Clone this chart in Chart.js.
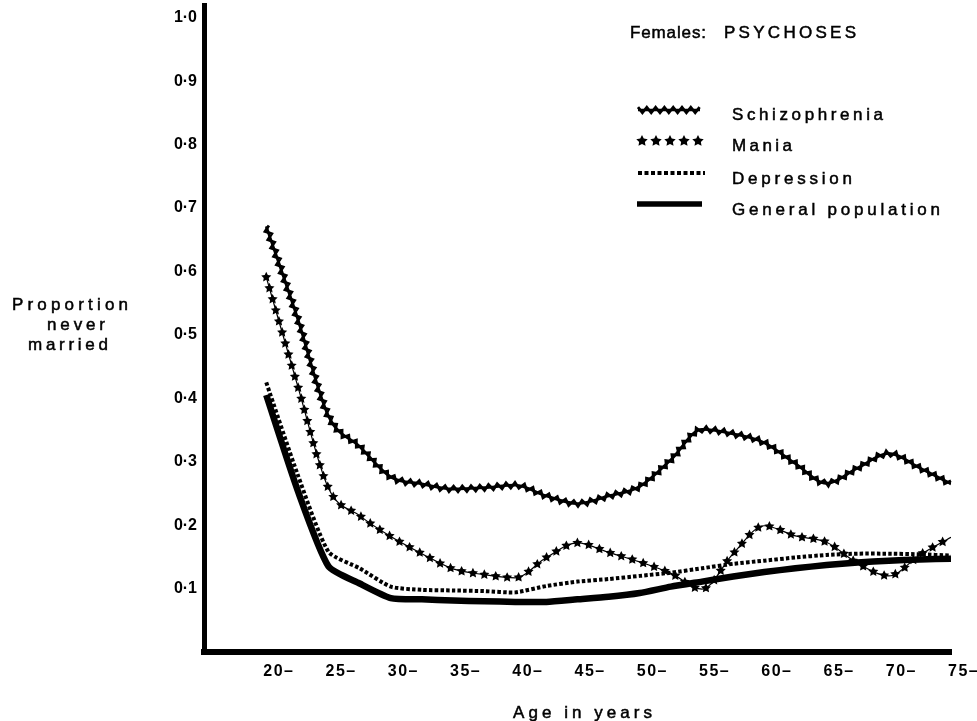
<!DOCTYPE html>
<html>
<head>
<meta charset="utf-8">
<script src="https://cdn.jsdelivr.net/npm/chart.js@4.4.1/dist/chart.umd.min.js"></script>
<style>
  html, body { margin: 0; padding: 0; background: #fff; }
  canvas { display: block; }
</style>
</head>
<body>
<canvas id="myChart" width="977" height="721"></canvas>

<script>
    // Age groups (years) and proportion never married for each group
    var ages = [20, 22.5, 25, 27.5, 30, 32.5, 35, 37.5, 40, 42.5, 45, 47.5, 50,
                52.5, 55, 57.5, 60, 62.5, 65, 67.5, 70, 72.5, 75];
    var schizophrenia = [0.671, 0.527, 0.372, 0.324, 0.276, 0.265, 0.257, 0.259, 0.263, 0.246, 0.234, 0.246, 0.261,
                         0.303, 0.351, 0.344, 0.330, 0.297, 0.266, 0.290, 0.313, 0.290, 0.265];
    var mania = [0.591, 0.421, 0.258, 0.215, 0.182, 0.155, 0.131, 0.122, 0.117, 0.149, 0.172, 0.157, 0.142,
                 0.124, 0.099, 0.155, 0.199, 0.183, 0.173, 0.140, 0.120, 0.153, 0.181];
    var depression = [0.425, 0.281, 0.158, 0.132, 0.103, 0.098, 0.097, 0.096, 0.094, 0.104, 0.111, 0.115, 0.120,
                      0.125, 0.132, 0.139, 0.144, 0.149, 0.153, 0.155, 0.155, 0.154, 0.152];
    var generalPopulation = [0.405, 0.256, 0.135, 0.108, 0.085, 0.083, 0.081, 0.080, 0.079, 0.079, 0.083, 0.087, 0.093,
                             0.103, 0.111, 0.119, 0.126, 0.132, 0.137, 0.141, 0.144, 0.146, 0.147];

    // Axis ticks
    var yTicks = [0.1, 0.2, 0.3, 0.4, 0.5, 0.6, 0.7, 0.8, 0.9, 1.0];
    var xTickAges = [20, 25, 30, 35, 40, 45, 50, 55, 60, 65, 70, 75];
    var xTickLabels = ['20–', '25–', '30–', '35–', '40–', '45–', '50–', '55–', '60–', '65–', '70–', '75–'];

    var seriesNames = ['Schizophrenia', 'Mania', 'Depression', 'General population'];

    var FONT = '"Liberation Sans", Arial, sans-serif';

    // text stretched with letter spacing to a given width
    function spacedText(ctx, text, x, y, width, font) {
        ctx.save();
        ctx.font = font;
        ctx.fillStyle = '#000';
        ctx.strokeStyle = '#000';
        ctx.lineWidth = 0.5;
        ctx.textBaseline = 'alphabetic';
        ctx.textAlign = 'left';
        ctx.letterSpacing = '0px';
        var natural = ctx.measureText(text).width;
        var gap = text.length > 1 ? (width - natural) / (text.length - 1) : 0;
        ctx.letterSpacing = gap + 'px';
        ctx.fillText(text, x, y);
        ctx.strokeText(text, x, y);
        ctx.restore();
    }

    // turn the line's bezier segments into a dense polyline
    function bezierPolyline(points) {
        var out = [];
        for (var i = 0; i < points.length - 1; i++) {
            var a = points[i], b = points[i + 1];
            var c1x = a.cp2x !== undefined ? a.cp2x : a.x, c1y = a.cp2y !== undefined ? a.cp2y : a.y;
            var c2x = b.cp1x !== undefined ? b.cp1x : b.x, c2y = b.cp1y !== undefined ? b.cp1y : b.y;
            for (var s = 0; s < 30; s++) {
                var t = s / 30, u = 1 - t;
                out.push({
                    x: u * u * u * a.x + 3 * u * u * t * c1x + 3 * u * t * t * c2x + t * t * t * b.x,
                    y: u * u * u * a.y + 3 * u * u * t * c1y + 3 * u * t * t * c2y + t * t * t * b.y
                });
            }
        }
        var last = points[points.length - 1];
        out.push({ x: last.x, y: last.y });
        return out;
    }

    // call fn every `step` px along a polyline
    function walk(poly, step, start, fn) {
        var acc = 0, next = start;
        for (var i = 1; i < poly.length; i++) {
            var a = poly[i - 1], b = poly[i];
            var dx = b.x - a.x, dy = b.y - a.y, len = Math.hypot(dx, dy);
            if (!len) continue;
            while (next <= acc + len) {
                var t = (next - acc) / len;
                fn(a.x + dx * t, a.y + dy * t, dx / len, dy / len);
                next += step;
            }
            acc += len;
        }
    }

    function drawZigzag(ctx, poly, amp, step, width) {
        var pts = [], k = 0;
        walk(poly, step, 0, function(x, y, tx, ty) {
            var s = (k++ % 2 ? 1 : -1) * amp;
            pts.push([x - ty * s, y + tx * s]);
        });
        ctx.beginPath();
        pts.forEach(function(p, i) { i ? ctx.lineTo(p[0], p[1]) : ctx.moveTo(p[0], p[1]); });
        ctx.lineWidth = width;
        ctx.lineJoin = 'miter';
        ctx.strokeStyle = '#000';
        ctx.stroke();
    }

    function drawStar(ctx, x, y, r) {
        ctx.beginPath();
        for (var j = 0; j < 10; j++) {
            var rad = j % 2 ? r * 0.5 : r;
            var ang = -Math.PI / 2 + j * Math.PI / 5;
            var px = x + Math.cos(ang) * rad, py = y + Math.sin(ang) * rad;
            j ? ctx.lineTo(px, py) : ctx.moveTo(px, py);
        }
        ctx.closePath();
        ctx.fillStyle = '#000';
        ctx.fill();
    }

    // zigzag and star decorations along the plotted lines
    var decorPlugin = {
        id: 'lineDecor',
        afterDatasetsDraw: function(chart) {
            var ctx = chart.ctx;
            chart.data.datasets.forEach(function(ds, i) {
                if (!ds.decor) return;
                var poly = bezierPolyline(chart.getDatasetMeta(i).data);
                ctx.save();
                if (ds.decor === 'zigzag') drawZigzag(ctx, poly, 2.8, 4.4, 2.8);
                if (ds.decor === 'stars') walk(poly, 11.5, 0, function(x, y) { drawStar(ctx, x, y, 5.3); });
                ctx.restore();
            });
        }
    };

    // titles, x tick labels and the legend key
    var textPlugin = {
        id: 'chartText',
        afterDraw: function(chart) {
            var ctx = chart.ctx;
            var xs = chart.scales.x;

            ctx.save();
            ctx.font = 'bold 16px ' + FONT;
            ctx.letterSpacing = '1.5px';
            ctx.fillStyle = '#000';
            ctx.textBaseline = 'alphabetic';
            xTickAges.forEach(function(a, i) {
                ctx.fillText(xTickLabels[i], xs.getPixelForValue(a) - 3, 676);
            });
            ctx.restore();

            var f = '17px ' + FONT;
            spacedText(ctx, 'Age in years', 513, 718, 139, f);
            spacedText(ctx, 'Proportion', 12, 310, 116, f);
            spacedText(ctx, 'never', 47, 330, 58, f);
            spacedText(ctx, 'married', 28, 350, 80, f);
            spacedText(ctx, 'Females:', 630, 38, 76, f);
            spacedText(ctx, 'PSYCHOSES', 724, 38, 132, f);

            // legend key
            ctx.save();
            drawZigzag(ctx, [{ x: 638, y: 110 }, { x: 700, y: 110 }], 2.8, 4.4, 2.8);
            ctx.lineWidth = 2.5;
            ctx.beginPath(); ctx.moveTo(638, 110); ctx.lineTo(700, 110); ctx.stroke();
            [642, 656, 670, 684, 698].forEach(function(x) { drawStar(ctx, x, 141, 6); });
            ctx.setLineDash([4, 2.5]);
            ctx.lineWidth = 4;
            ctx.beginPath(); ctx.moveTo(638, 173); ctx.lineTo(705, 173); ctx.stroke();
            ctx.setLineDash([]);
            ctx.lineWidth = 5.5;
            ctx.beginPath(); ctx.moveTo(637, 204); ctx.lineTo(702, 204); ctx.stroke();
            ctx.restore();

            spacedText(ctx, seriesNames[0], 732, 120, 151, f);
            spacedText(ctx, seriesNames[1], 732, 151, 60, f);
            spacedText(ctx, seriesNames[2], 732, 184, 120, f);
            spacedText(ctx, seriesNames[3], 732, 215, 208, f);
        }
    };

    function pointsOf(values) {
        return ages.map(function(a, i) { return { x: a, y: values[i] }; });
    }

    var data = {
        datasets: [{
            label: seriesNames[0],
            data: pointsOf(schizophrenia),
            borderColor: '#000',
            borderWidth: 2.8,
            cubicInterpolationMode: 'monotone',
            decor: 'zigzag'
        }, {
            label: seriesNames[1],
            data: pointsOf(mania),
            borderColor: '#000',
            borderWidth: 1.2,
            cubicInterpolationMode: 'monotone',
            decor: 'stars'
        }, {
            label: seriesNames[2],
            data: pointsOf(depression),
            borderColor: '#000',
            borderWidth: 4,
            borderDash: [3.5, 2.2],
            tension: 0.2
        }, {
            label: seriesNames[3],
            data: pointsOf(generalPopulation),
            borderColor: '#000',
            borderWidth: 6.5,
            tension: 0.2
        }]
    };

    var options = {
        responsive: false,
        animation: false,
        layout: { padding: { left: 0, right: 26, top: 5, bottom: 69 } },
        elements: {
            point: { radius: 0 },
            line: { fill: false }
        },
        plugins: {
            legend: { display: false },
            tooltip: { enabled: false }
        },
        scales: {
            x: {
                type: 'linear',
                min: 15,
                max: 75,
                grid: { display: false, drawTicks: false },
                border: { display: true, color: '#000', width: 6 },
                ticks: { display: false }
            },
            y: {
                min: 0,
                max: 1.02,
                afterFit: function(scale) {
                    scale.width = 204;
                    scale.paddingTop = 0;
                    scale.paddingBottom = 0;
                },
                afterBuildTicks: function(scale) {
                    scale.ticks = yTicks.map(function(v) { return { value: v }; });
                },
                grid: { display: false, drawTicks: false },
                border: { display: true, color: '#000', width: 5 },
                ticks: {
                    padding: 7,
                    color: '#000',
                    font: { family: FONT, size: 16, weight: 'bold' },
                    callback: function(v) { return v.toFixed(1).replace('.', '·'); }
                }
            }
        }
    };

    var ctx = document.getElementById('myChart').getContext('2d');
    var myChart = new Chart(ctx, {
        type: 'line',
        data: data,
        options: options,
        plugins: [decorPlugin, textPlugin]
    });
</script>
</body>
</html>
